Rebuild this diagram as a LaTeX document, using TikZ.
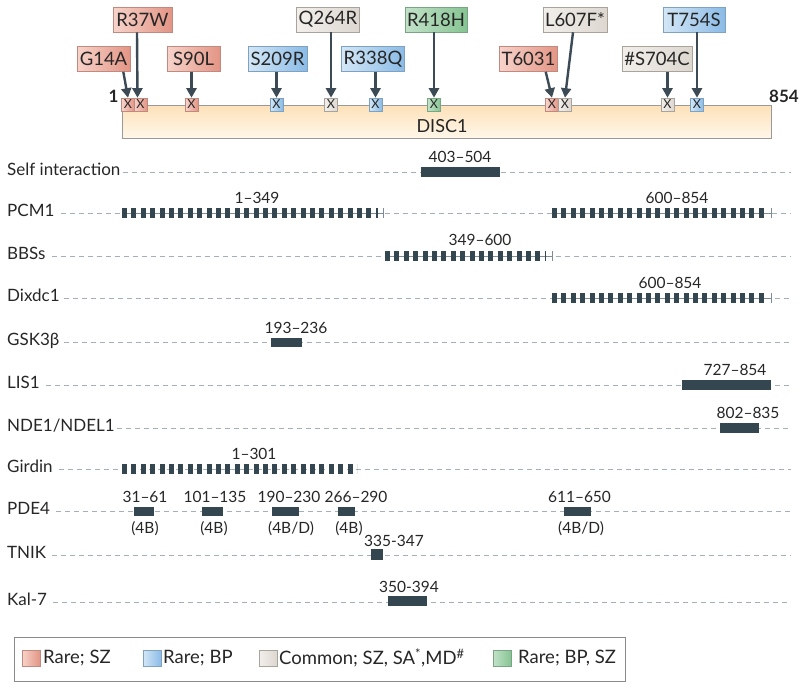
\documentclass[tikz,border=0pt]{standalone}
\usepackage{fontspec}
\setmainfont{Lato}
\usetikzlibrary{arrows.meta,calc}
\definecolor{barc}{HTML}{34464F}
\definecolor{arrc}{HTML}{3B4A55}
\definecolor{dashc}{HTML}{A3AFBA}
\definecolor{thinc}{HTML}{7D8C98}
\definecolor{pinkL}{HTML}{F7D3CA}
\definecolor{pinkR}{HTML}{E39585}
\definecolor{pinkD}{HTML}{C08A80}
\definecolor{blueL}{HTML}{D3E7F6}
\definecolor{blueR}{HTML}{8BBBE6}
\definecolor{blueD}{HTML}{7FA2C2}
\definecolor{grayL}{HTML}{F2EFEB}
\definecolor{grayR}{HTML}{DDD7D0}
\definecolor{grayD}{HTML}{A9A39C}
\definecolor{greenL}{HTML}{C3E2C9}
\definecolor{greenR}{HTML}{86C493}
\definecolor{greenD}{HTML}{7AA585}
\definecolor{discT}{HTML}{FDE1B8}
\definecolor{discB}{HTML}{FFF7EA}
\definecolor{legc}{HTML}{8A8A8A}
\begin{document}
\begin{tikzpicture}[x=1pt,y=-1pt,
  pinkbox/.style={left color=pinkL, right color=pinkR, draw=pinkD},
  bluebox/.style={left color=blueL, right color=blueR, draw=blueD},
  graybox/.style={left color=grayL, right color=grayR, draw=grayD},
  greenbox/.style={left color=greenL, right color=greenR, draw=greenD},
  mutlab/.style={line width=0.6pt, minimum height=25pt, inner xsep=2pt, inner ysep=0pt,
    font=\fontsize{18.5}{20}\selectfont, text=black!85},
  xbox/.style={line width=0.6pt, minimum width=13pt, minimum height=13pt, inner sep=0pt,
    font=\fontsize{12.5}{12.5}\selectfont, text=black!85},
  mutarrow/.style={draw=arrc, line width=2.4pt, -{Triangle[length=9.5pt,width=10pt,fill=arrc]}},
  rowlab/.style={anchor=base west, inner sep=0pt, font=\fontsize{17}{18}\selectfont, text=black!85},
  rowline/.style={draw=dashc, line width=0.8pt, dash pattern=on 5pt off 4pt},
  rangelab/.style={anchor=base, inner sep=0pt, font=\fontsize{15.5}{16}\selectfont, text=black!85},
  solidbar/.style={fill=barc},
  dashbar/.style={draw=barc, line width=10pt, dash pattern=on 5pt off 4.4pt},
  thinbar/.style={draw=thinc, line width=0.8pt},
  leglab/.style={anchor=west, inner sep=0pt, font=\fontsize{18.5}{19}\selectfont, text=black!85}
]
\useasboundingbox (0,0) rectangle (800,689);

% ---------- DISC1 bar ----------
\path[top color=discT, bottom color=discB, draw=black!40, line width=0.8pt] (122,105) rectangle (771,138);
\node[font=\fontsize{18}{18}\selectfont, text=black!85] (disc) at (442,126) {DISC1};
\node[font=\bfseries\fontsize{17}{17}\selectfont, text=black!85] (n1) at (113.5,96) {1};
\node[font=\bfseries\fontsize{17}{17}\selectfont, text=black!85] (n854) at (784,96) {854};

% ---------- X boxes ----------
\node[xbox, pinkbox] (x1) at (128,104.5) {X};
\node[xbox, pinkbox] (x2) at (140.5,104.5) {X};
\node[xbox, pinkbox] (x3) at (191.5,104.5) {X};
\node[xbox, bluebox] (x4) at (276.5,104.5) {X};
\node[xbox, graybox] (x5) at (331,104.5) {X};
\node[xbox, bluebox] (x6) at (375.5,104.5) {X};
\node[xbox, greenbox] (x7) at (434,104.5) {X};
\node[xbox, pinkbox] (x8) at (552,104.5) {X};
\node[xbox, graybox] (x9) at (565,104.5) {X};
\node[xbox, graybox] (x10) at (667.5,104.5) {X};
\node[xbox, bluebox] (x11) at (697,104.5) {X};

% ---------- mutation labels ----------
\node[mutlab, pinkbox, minimum width=53pt] (G14A) at (103.5,59) {G14A};
\node[mutlab, pinkbox, minimum width=59pt] (R37W) at (142.5,19.5) {R37W};
\node[mutlab, pinkbox, minimum width=53pt] (S90L) at (193.5,59) {S90L};
\node[mutlab, bluebox, minimum width=59pt] (S209R) at (277.5,59) {S209R};
\node[mutlab, graybox, minimum width=60pt] (Q264R) at (328,19.5) {Q264R};
\node[mutlab, bluebox, minimum width=60pt] (R338Q) at (373,59) {R338Q};
\node[mutlab, greenbox, minimum width=62pt] (R418H) at (436,19.5) {R418H};
\node[mutlab, pinkbox, minimum width=57pt] (T6031) at (528.5,59) {T6031};
\node[mutlab, graybox, minimum width=64pt] (L607F) at (575,19.5) {L607F*};
\node[mutlab, graybox, minimum width=70pt] (S704C) at (657,59) {\#S704C};
\node[mutlab, bluebox, minimum width=62pt] (T754S) at (694,19.5) {T754S};

% ---------- arrows ----------
\draw[mutarrow] ($(G14A.south east)+(-7,0)$) -- (x1.north);
\draw[mutarrow] ($(R37W.south)+(-5.5,0)$) -- ($(x2.north)+(-3,0)$);
\draw[mutarrow] (x3.north |- S90L.south) -- (x3.north);
\draw[mutarrow] (x4.north |- S209R.south) -- (x4.north);
\draw[mutarrow] (x5.north |- Q264R.south) -- (x5.north);
\draw[mutarrow] (x6.north |- R338Q.south) -- (x6.north);
\draw[mutarrow] (x7.north |- R418H.south) -- (x7.north);
\draw[mutarrow] ($(T6031.south east)+(-12,0)$) -- (x8.north);
\draw[mutarrow] ($(L607F.south)+(-2,0)$) -- (x9.north);
\draw[mutarrow] (x10.north |- S704C.south) -- (x10.north);
\draw[mutarrow] (x11.north |- T754S.south) -- (x11.north);

% ---------- rows ----------
\coordinate (rS) at (0,172);  \coordinate (rSe) at (791,172);
\coordinate (rP) at (0,213);  \coordinate (rPe) at (791,213);
\coordinate (rB) at (0,256);  \coordinate (rBe) at (791,256);
\coordinate (rD) at (0,298);  \coordinate (rDe) at (791,298);
\coordinate (rG) at (0,342);  \coordinate (rGe) at (791,342);
\coordinate (rL) at (0,385);  \coordinate (rLe) at (791,385);
\coordinate (rN) at (0,428);  \coordinate (rNe) at (791,428);
\coordinate (rGi) at (0,469); \coordinate (rGie) at (791,469);
\coordinate (rPD) at (0,511); \coordinate (rPDe) at (791,511);
\coordinate (rT) at (0,555);  \coordinate (rTe) at (791,555);
\coordinate (rK) at (0,602);  \coordinate (rKe) at (791,602);

\node[rowlab] (lS) at (7,175) {Self interaction};
\node[rowlab] (lP) at (7,216) {PCM1};
\node[rowlab] (lB) at (7,259) {BBSs};
\node[rowlab] (lD) at (7,301) {Dixdc1};
\node[rowlab] (lG) at (7,345) {GSK3β};
\node[rowlab] (lL) at (7,388) {LIS1};
\node[rowlab] (lN) at (7,431) {NDE1/NDEL1};
\node[rowlab] (lGi) at (7,472) {Girdin};
\node[rowlab] (lPD) at (7,514) {PDE4};
\node[rowlab] (lT) at (7,558) {TNIK};
\node[rowlab] (lK) at (7,605) {Kal-7};

\draw[rowline] ([xshift=2pt]lS.east |- rS) -- (rSe);
\draw[rowline] ([xshift=6pt]lP.east |- rP) -- (rPe);
\draw[rowline] ([xshift=6pt]lB.east |- rB) -- (rBe);
\draw[rowline] ([xshift=4pt]lD.east |- rD) -- (rDe);
\draw[rowline] ([xshift=4pt]lG.east |- rG) -- (rGe);
\draw[rowline] ([xshift=6pt]lL.east |- rL) -- (rLe);
\draw[rowline] ([xshift=2pt]lN.east |- rN) -- (rNe);
\draw[rowline] ([xshift=6pt]lGi.east |- rGi) -- (rGie);
\draw[rowline] ([xshift=6pt]lPD.east |- rPD) -- (rPDe);
\draw[rowline] ([xshift=6pt]lT.east |- rT) -- (rTe);
\draw[rowline] ([xshift=6pt]lK.east |- rK) -- (rKe);

% ---------- Self interaction ----------
\fill[solidbar] (421,166.5) rectangle (500,177);
\node[rangelab] (aS) at (460,162) {403–504};

% ---------- PCM1 ----------
\draw[thinbar] (122,213) -- (383,213);
\draw[thinbar] (383,208) -- (383,218);
\draw[dashbar] (122,213) -- (378,213);
\node[rangelab] (aP1) at (257,203) {1–349};
\draw[thinbar] (552,213) -- (771,213);
\draw[thinbar] (771,208) -- (771,218);
\draw[dashbar] (552,213) -- (767,213);
\node[rangelab] (aP2) at (677,203) {600–854};

% ---------- BBSs ----------
\draw[thinbar] (385,256) -- (552,256);
\draw[thinbar] (552,251) -- (552,261);
\draw[dashbar] (385,256) -- (546,256);
\node[rangelab] (aB) at (480,245) {349–600};

% ---------- Dixdc1 ----------
\draw[thinbar] (552,298) -- (771,298);
\draw[thinbar] (771,293) -- (771,303);
\draw[dashbar] (552,298) -- (767,298);
\node[rangelab] (aD) at (670,288) {600–854};

% ---------- GSK3b ----------
\fill[solidbar] (271,337.5) rectangle (302,347);
\node[rangelab] (aG) at (296,333) {193–236};

% ---------- LIS1 ----------
\fill[solidbar] (682,379.5) rectangle (771,390);
\node[rangelab] (aL) at (735,375) {727–854};

% ---------- NDE1/NDEL1 ----------
\fill[solidbar] (720,423) rectangle (759,433);
\node[rangelab] (aN) at (748,418) {802–835};

% ---------- Girdin ----------
\draw[dashbar] (122,469) -- (357,469);
\node[rangelab] (aGi) at (254,459) {1–301};

% ---------- PDE4 ----------
\fill[solidbar] (134,506.5) rectangle (154,516);
\fill[solidbar] (202,506.5) rectangle (223,516);
\fill[solidbar] (272,506.5) rectangle (299,516);
\fill[solidbar] (338,506.5) rectangle (355,516);
\fill[solidbar] (564,506.5) rectangle (591,516);
\node[rangelab] (aPD1) at (145,502) {31–61};
\node[rangelab] (aPD2) at (215,502) {101–135};
\node[rangelab] (aPD3) at (289,502) {190–230};
\node[rangelab] (aPD4) at (356,502) {266–290};
\node[rangelab] (aPD5) at (579.5,502) {611–650};
\node[rangelab] (bPD1) at (145,533) {(4B)};
\node[rangelab] (bPD2) at (214,533) {(4B)};
\node[rangelab] (bPD3) at (291,533) {(4B/D)};
\node[rangelab] (bPD4) at (349,533) {(4B)};
\node[rangelab] (bPD5) at (581,533) {(4B/D)};

% ---------- TNIK ----------
\fill[solidbar] (371,549) rectangle (383,560);
\node[rangelab] (aT) at (394,546) {335-347};

% ---------- Kal-7 ----------
\fill[solidbar] (388,596) rectangle (427,606);
\node[rangelab] (aK) at (409,592) {350-394};

% ---------- legend ----------
\draw[legc, line width=0.9pt] (14,637) rectangle (625,681);
\path[pinkbox, line width=0.5pt] (22,650) rectangle (40,666);
\node[leglab] (lg1) at (43,658) {Rare; SZ};
\path[bluebox, line width=0.5pt] (143,650) rectangle (161,666);
\node[leglab] (lg2) at (163,658) {Rare; BP};
\path[graybox, line width=0.5pt] (259,650) rectangle (277,666);
\node[leglab] (lg3) at (279,658) {Common; SZ, SA\textsuperscript{*},MD\textsuperscript{\#}};
\path[greenbox, line width=0.5pt] (493,650) rectangle (511,666);
\node[leglab] (lg4) at (518,658) {Rare; BP, SZ};
\end{tikzpicture}
\end{document}
